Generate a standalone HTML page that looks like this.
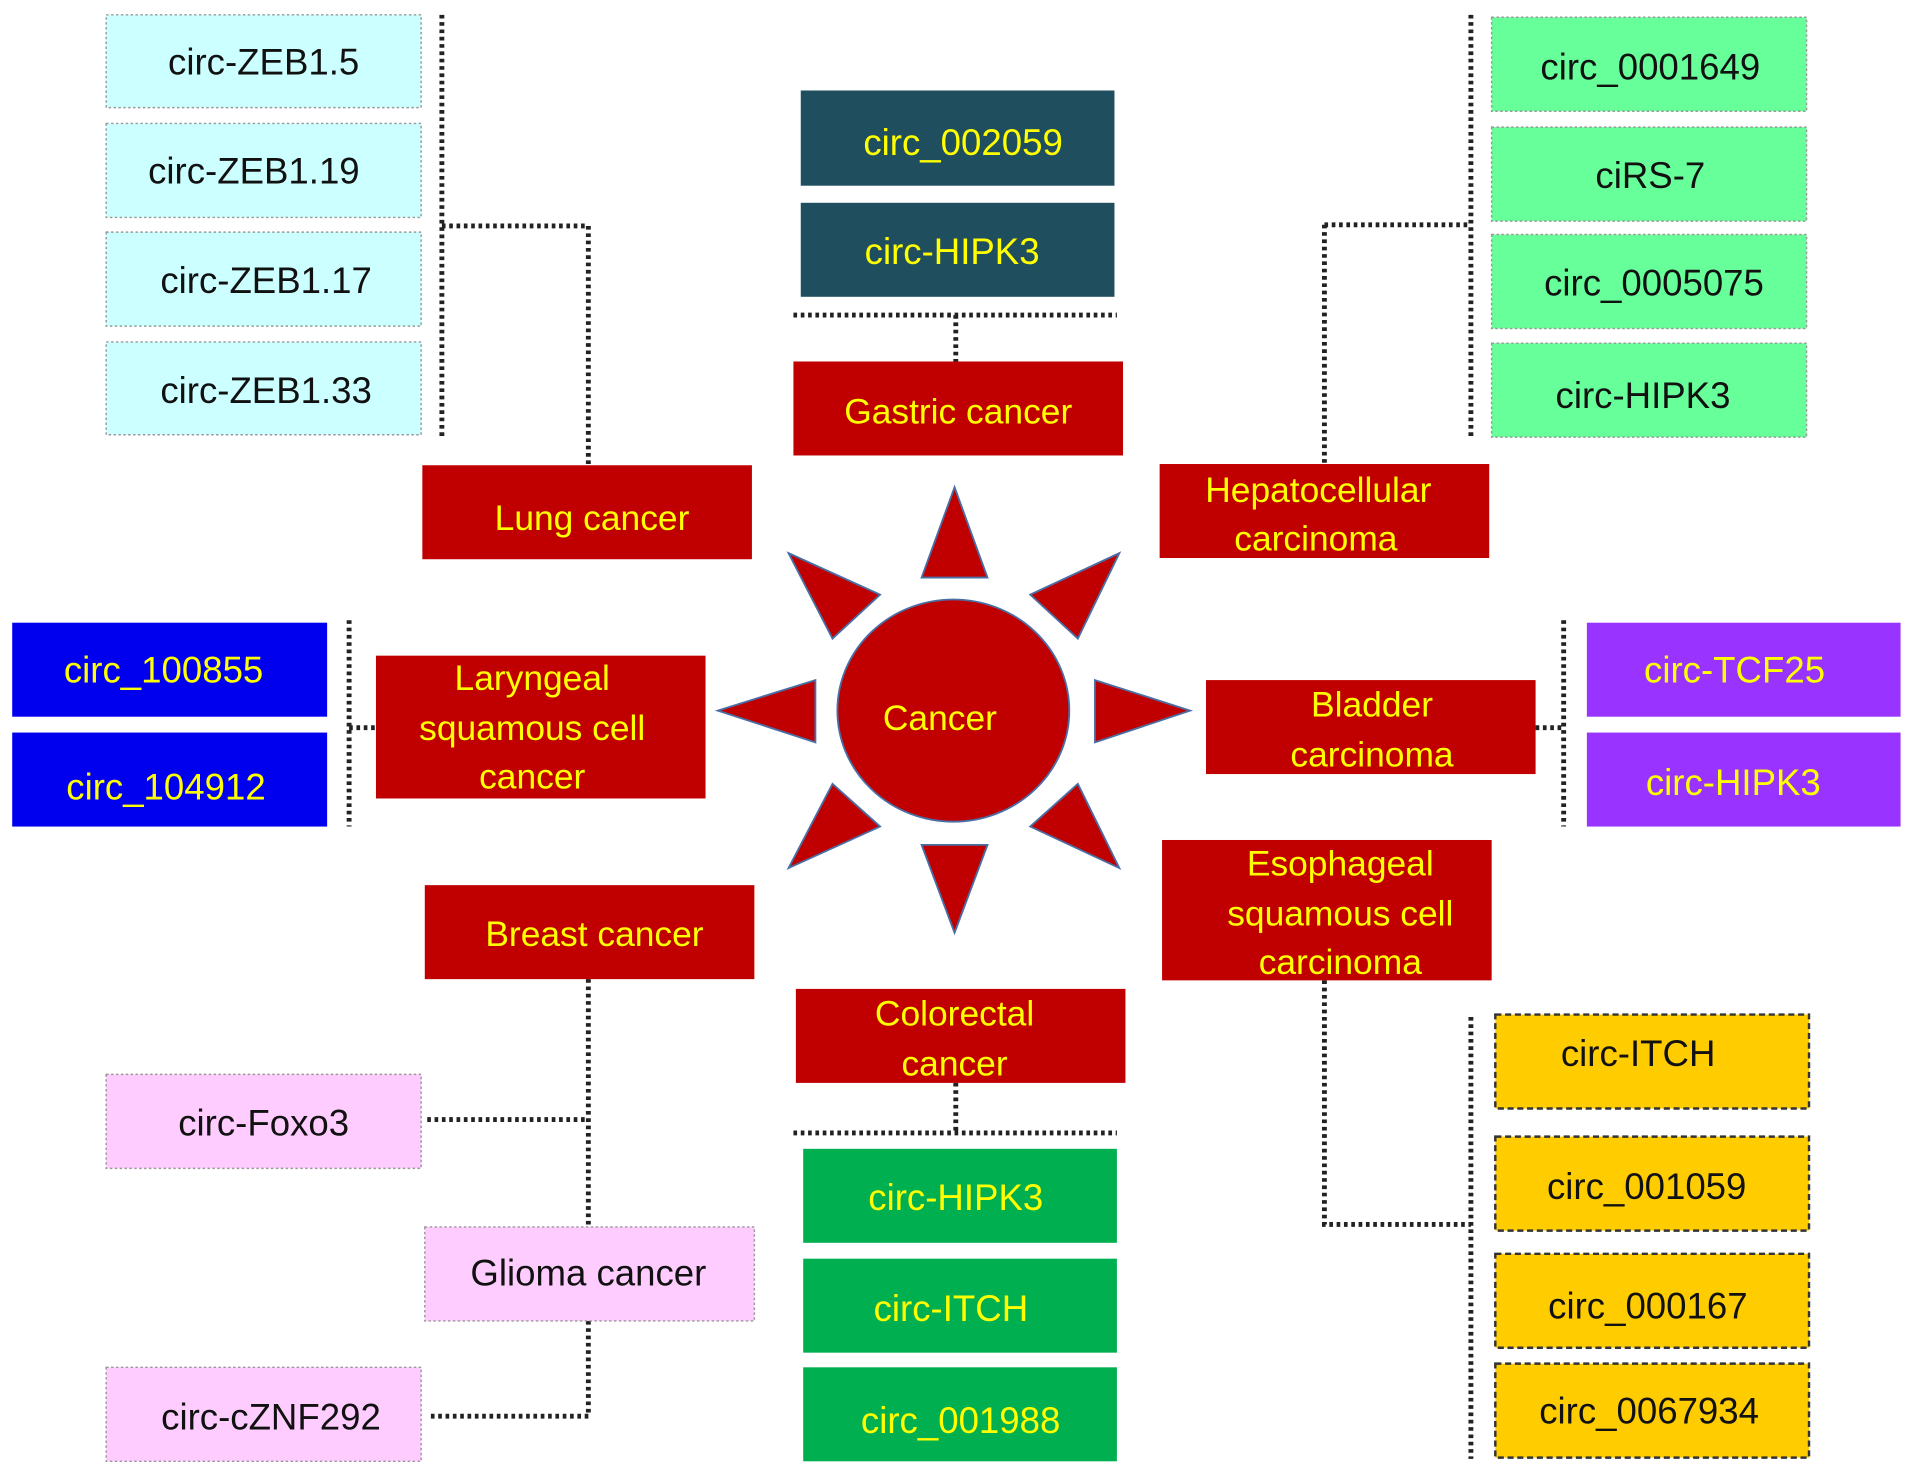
<!DOCTYPE html>
<html><head><meta charset="utf-8"><style>html,body{margin:0;padding:0;background:#fff}svg{display:block}</style></head>
<body>
<svg width="1914" height="1481" viewBox="0 0 1568 1213" xmlns="http://www.w3.org/2000/svg" font-family="Liberation Sans, Arial, sans-serif">
<g fill="none" stroke="#222" stroke-width="4" stroke-dasharray="3 3">
<path d="M362 12V357M362 185H482V380"/>
<path d="M650 258H915M783 258V296"/>
<path d="M1205 12V358M1085 184H1205M1085 184V380"/>
<path d="M286 508V677M286 596H308"/>
<path d="M1281 508V677M1258 596H1281"/>
<path d="M482 802V1005M350 917H482M482 1082V1160H350"/>
<path d="M783 887V928M650 928H915"/>
<path d="M1085 803V1003H1205M1205 833V1195"/>
</g>
<g stroke="#999" stroke-width="1.2" stroke-dasharray="2 2">
<rect x="87" y="12" width="258" height="76" fill="#ccffff"/>
<rect x="87" y="101" width="258" height="77" fill="#ccffff"/>
<rect x="87" y="190" width="258" height="77" fill="#ccffff"/>
<rect x="87" y="280" width="258" height="76" fill="#ccffff"/>
<rect x="87" y="880" width="258" height="77" fill="#ffccff"/>
<rect x="348" y="1005" width="270" height="77" fill="#ffccff"/>
<rect x="87" y="1120" width="258" height="77" fill="#ffccff"/>
<rect x="1222" y="14" width="258" height="77" fill="#66ff99"/>
<rect x="1222" y="104" width="258" height="77" fill="#66ff99"/>
<rect x="1222" y="192" width="258" height="77" fill="#66ff99"/>
<rect x="1222" y="281" width="258" height="77" fill="#66ff99"/>
</g>
<g stroke="#333" stroke-width="2" stroke-dasharray="5 3" fill="#ffcc00">
<rect x="1225" y="831" width="257" height="77"/>
<rect x="1225" y="931" width="257" height="77"/>
<rect x="1225" y="1027" width="257" height="77"/>
<rect x="1225" y="1117" width="257" height="77"/>
</g>
<g fill="#1f4e5f"><rect x="656" y="74" width="257" height="78"/><rect x="656" y="166" width="257" height="77"/></g>
<g fill="#0000ee"><rect x="10" y="510" width="258" height="77"/><rect x="10" y="600" width="258" height="77"/></g>
<g fill="#9933ff"><rect x="1300" y="510" width="257" height="77"/><rect x="1300" y="600" width="257" height="77"/></g>
<g fill="#00b050"><rect x="658" y="941" width="257" height="77"/><rect x="658" y="1031" width="257" height="77"/><rect x="658" y="1120" width="257" height="77"/></g>
<g fill="#c00000">
<rect x="346" y="381" width="270" height="77"/>
<rect x="650" y="296" width="270" height="77"/>
<rect x="950" y="380" width="270" height="77"/>
<rect x="308" y="537" width="270" height="117"/>
<rect x="988" y="557" width="270" height="77"/>
<rect x="348" y="725" width="270" height="77"/>
<rect x="652" y="810" width="270" height="77"/>
<rect x="952" y="688" width="270" height="115"/>
</g>
<g fill="#c00000" stroke="#4a6fa5" stroke-width="1.5">
<ellipse cx="781" cy="582" rx="95" ry="91"/>
<polygon points="782,399 755,473 809,473"/>
<polygon points="782,764 755,692 809,692"/>
<polygon points="975,582 897,557 897,608"/>
<polygon points="588,582 668,557 668,608"/>
<polygon points="646,453 721,487 682,523"/>
<polygon points="917,453 844,487 883,523"/>
<polygon points="646,711 721,677 682,642"/>
<polygon points="917,711 844,677 883,642"/>
</g>
<g font-size="30" text-anchor="middle" fill="#111">
<text x="216" y="61">circ-ZEB1.5</text>
<text x="208" y="150">circ-ZEB1.19</text>
<text x="218" y="240">circ-ZEB1.17</text>
<text x="218" y="330">circ-ZEB1.33</text>
<text x="216" y="930">circ-Foxo3</text>
<text x="482" y="1053">Glioma cancer</text>
<text x="222" y="1171">circ-cZNF292</text>
<text x="1352" y="65">circ_0001649</text>
<text x="1352" y="154">ciRS-7</text>
<text x="1355" y="242">circ_0005075</text>
<text x="1346" y="334">circ-HIPK3</text>
<text x="1342" y="873">circ-ITCH</text>
<text x="1349" y="982">circ_001059</text>
<text x="1350" y="1080">circ_000167</text>
<text x="1351" y="1166">circ_0067934</text>
</g>
<g font-size="30" text-anchor="middle" fill="#ffff00">
<text x="789" y="127">circ_002059</text>
<text x="780" y="216">circ-HIPK3</text>
<text x="134" y="559">circ_100855</text>
<text x="136" y="655">circ_104912</text>
<text x="1421" y="559">circ-TCF25</text>
<text x="1420" y="651">circ-HIPK3</text>
<text x="783" y="991">circ-HIPK3</text>
<text x="779" y="1082">circ-ITCH</text>
<text x="787" y="1174">circ_001988</text>
</g>
<g font-size="29" text-anchor="middle" fill="#ffff00">
<text x="485" y="434">Lung cancer</text>
<text x="785" y="347">Gastric cancer</text>
<text x="1080" y="411">Hepatocellular</text>
<text x="1078" y="451">carcinoma</text>
<text x="436" y="565">Laryngeal</text>
<text x="436" y="606">squamous cell</text>
<text x="436" y="646">cancer</text>
<text x="1124" y="587">Bladder</text>
<text x="1124" y="628">carcinoma</text>
<text x="487" y="775">Breast cancer</text>
<text x="782" y="840">Colorectal</text>
<text x="782" y="881">cancer</text>
<text x="1098" y="717">Esophageal</text>
<text x="1098" y="758">squamous cell</text>
<text x="1098" y="798">carcinoma</text>
<text x="770" y="598">Cancer</text>
</g>
</svg>
</body></html>
